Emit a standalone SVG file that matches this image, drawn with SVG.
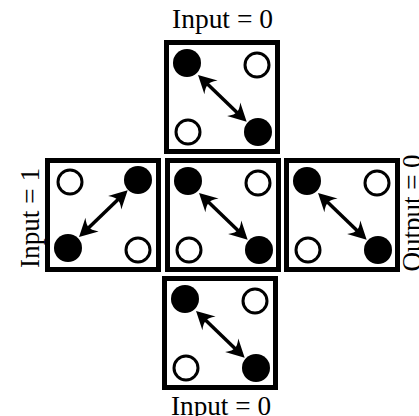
<svg xmlns="http://www.w3.org/2000/svg" width="419" height="416" viewBox="0 0 419 416">
  <style>
    .frame { fill: #ffffff; stroke: #000000; stroke-width: 5; }
    .on { fill: #000000; }
    .off { fill: #ffffff; stroke: #000000; stroke-width: 3; }
    .link { fill: none; stroke: #000000; stroke-width: 3.5; marker-start: url(#barb); marker-end: url(#barb); }
    .label { font-family: "Liberation Serif", "Times New Roman", serif; font-size: 27px; fill: #000000; }
  </style>
  <defs>
    <!-- barbed arrowhead; origin sits at the line end, tip reaches 8px past it -->
    <marker id="barb" markerUnits="userSpaceOnUse" markerWidth="30" markerHeight="30" refX="0" refY="0" viewBox="-15 -15 30 30" orient="auto-start-reverse" overflow="visible">
      <path d="M8,0 L-10,-9.5 Q-5,-3 -6,0 Q-5,3 -10,9.5 Z" fill="#000000"/>
    </marker>
  </defs>

  <rect width="419" height="416" fill="#ffffff"/>

  <!-- labels -->
  <text class="label" x="222.5" y="27.5" text-anchor="middle" textLength="101" lengthAdjust="spacingAndGlyphs">Input = 0</text>
  <text class="label" x="221" y="415" text-anchor="middle" textLength="100" lengthAdjust="spacingAndGlyphs">Input = 0</text>
  <text class="label" text-anchor="middle" textLength="100" lengthAdjust="spacingAndGlyphs" transform="translate(39,218) rotate(-90)">Input = 1</text>
  <text class="label" text-anchor="middle" transform="translate(421,213) rotate(-90)">Output = 0</text>

  <!-- cells -->
  <g id="cell-top" transform="translate(164,40)">
    <rect class="frame" x="2.5" y="2.5" width="111" height="109"/>
    <circle class="on" cx="23" cy="23" r="14"/>
    <circle class="off" cx="93" cy="25" r="12"/>
    <circle class="off" cx="24" cy="92" r="12"/>
    <circle class="on" cx="94" cy="92" r="14"/>
  </g>
  <g id="cell-left" transform="translate(45,158)">
    <rect class="frame" x="2.5" y="2.5" width="111" height="109"/>
    <circle class="off" cx="25" cy="24" r="12"/>
    <circle class="on" cx="93" cy="22" r="14"/>
    <circle class="on" cx="23" cy="90" r="14"/>
    <circle class="off" cx="93" cy="92" r="12"/>
  </g>
  <g id="cell-center" transform="translate(165,158)">
    <rect class="frame" x="2.5" y="2.5" width="111" height="109"/>
    <circle class="on" cx="23" cy="23" r="14"/>
    <circle class="off" cx="93" cy="25" r="12"/>
    <circle class="off" cx="24" cy="92" r="12"/>
    <circle class="on" cx="94" cy="92" r="14"/>
  </g>
  <g id="cell-right" transform="translate(284,158)">
    <rect class="frame" x="2.5" y="2.5" width="111" height="109"/>
    <circle class="on" cx="23" cy="23" r="14"/>
    <circle class="off" cx="93" cy="25" r="12"/>
    <circle class="off" cx="24" cy="92" r="12"/>
    <circle class="on" cx="94" cy="92" r="14"/>
  </g>
  <g id="cell-bottom" transform="translate(162,276)">
    <rect class="frame" x="2.5" y="2.5" width="111" height="109"/>
    <circle class="on" cx="23" cy="23" r="14"/>
    <circle class="off" cx="93" cy="25" r="12"/>
    <circle class="off" cx="24" cy="92" r="12"/>
    <circle class="on" cx="94" cy="92" r="14"/>
  </g>

  <!-- double-headed links between the filled dots -->
  <g id="links">
    <path class="link" d="M203.8,80.5 L240.9,116.2"/>
    <path class="link" d="M84.8,231.5 L121.9,195.8"/>
    <path class="link" d="M204.8,198.5 L241.9,234.2"/>
    <path class="link" d="M323.8,198.5 L360.9,234.2"/>
    <path class="link" d="M201.8,316.5 L238.9,352.2"/>
  </g>
</svg>
